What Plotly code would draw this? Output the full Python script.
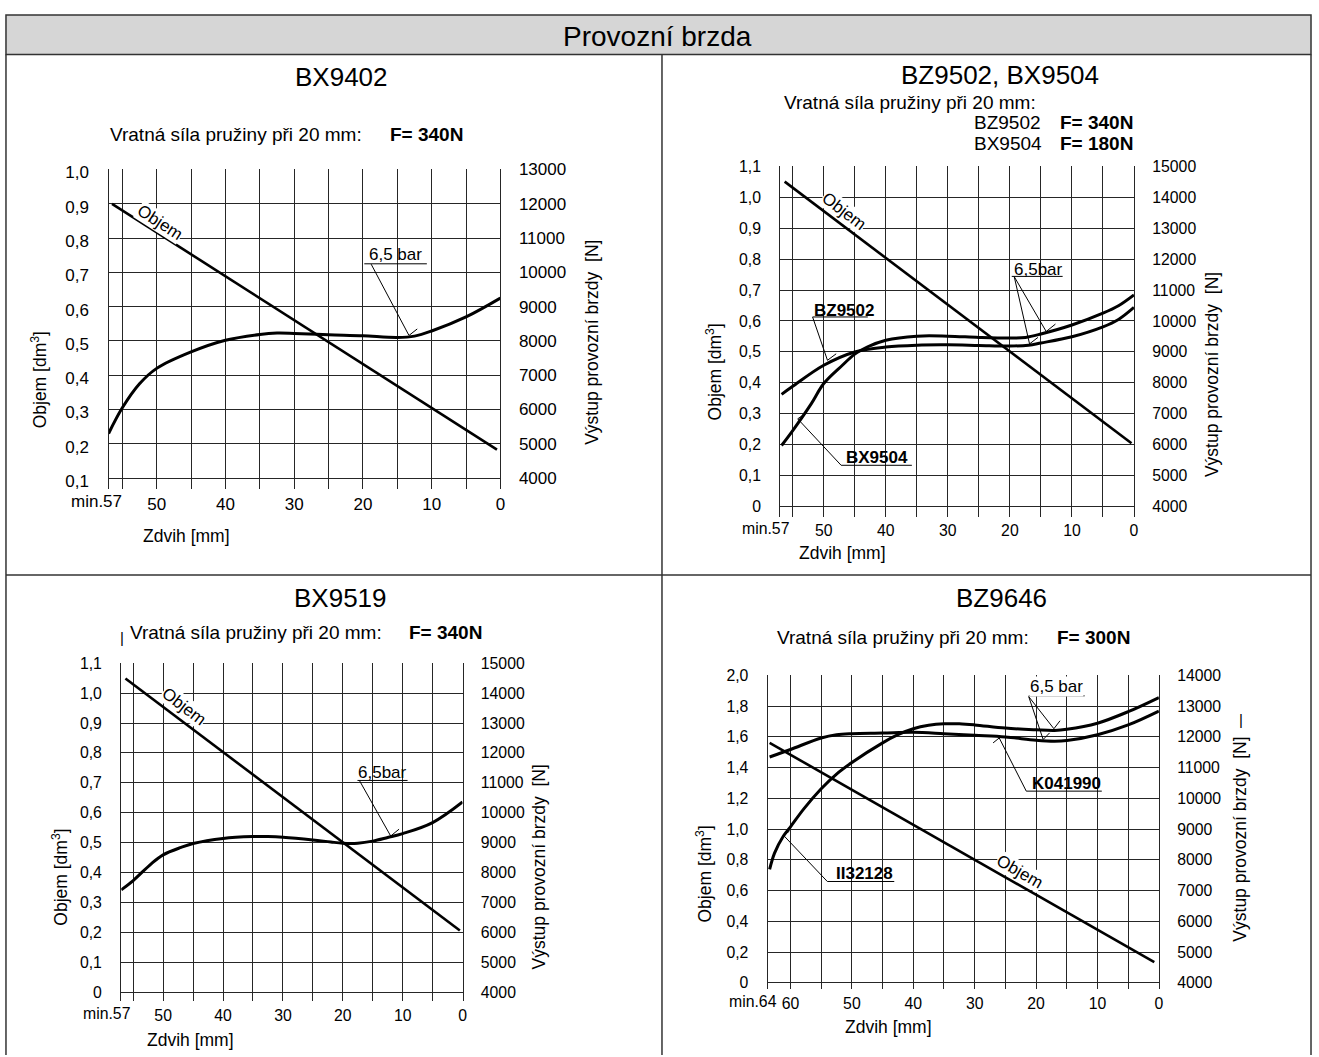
import plotly.graph_objects as go

W, H = 1319, 1057

# ---------------- data ----------------
# x: Zdvih [mm], volume in dm3 (left axis), brake output in N (right axis)
p1_objem_x = [56.5, 0.5]
p1_objem_v = [0.90, 0.183]
p1_force_x = [57, 55, 52.5, 50, 45, 40, 35, 32.5, 30, 25, 20, 15, 12.5, 10, 5, 0]
p1_force_n = [5300, 6050, 6750, 7200, 7680, 8020, 8190, 8230, 8220, 8180, 8150, 8100, 8140, 8290, 8700, 9250]

p2_objem_x = [56.3, 0.4]
p2_objem_v = [1.05, 0.205]
p2_bz9502_x = [56.8, 55, 50, 45, 40, 35, 30, 25, 20, 17, 15, 10, 5, 2.5, 0]
p2_bz9502_n = [7630, 7890, 8570, 9000, 9160, 9220, 9230, 9210, 9190, 9220, 9290, 9490, 9810, 10050, 10440]
p2_bx9504_x = [56.8, 55, 52, 50, 47, 45, 43, 40, 35, 30, 25, 20, 17.5, 15, 10, 5, 2.5, 0]
p2_bx9504_n = [5980, 6460, 7330, 7980, 8570, 8930, 9160, 9380, 9510, 9510, 9470, 9450, 9470, 9580, 9870, 10250, 10490, 10840]

p3_objem_x = [56.3, 0.45]
p3_objem_v = [1.049, 0.206]
p3_force_x = [57, 55, 52, 50, 47, 45, 40, 35, 32.5, 30, 25, 22, 20, 17.5, 15, 12.5, 10, 5, 0]
p3_force_n = [7420, 7730, 8290, 8590, 8840, 8970, 9140, 9200, 9200, 9180, 9090, 9020, 8980, 8980, 9050, 9170, 9300, 9670, 10360]

p4_objem_x = [63.4, 0.75]
p4_objem_v = [1.561, 0.134]
p4_ii32128_x = [63.4, 62.6, 61.2, 60, 57.8, 55, 52.5, 50, 45, 42.5, 40, 37.5, 35, 32.5, 30, 25, 20, 17, 15, 10, 5, 0]
p4_ii32128_n = [7690, 8220, 8760, 9075, 9665, 10310, 10790, 11165, 11805, 12070, 12265, 12375, 12425, 12425, 12390, 12285, 12230, 12210, 12245, 12445, 12820, 13280]
p4_k041990_x = [63.4, 60, 55, 52.5, 50, 45, 40, 35, 30, 25, 20, 17, 15, 10, 5, 0]
p4_k041990_n = [11345, 11590, 11965, 12070, 12105, 12125, 12150, 12105, 12050, 11995, 11890, 11860, 11880, 12070, 12390, 12840]

# tick labels
x_major_57 = [0, 10, 20, 30, 40, 50]
x_minor_57 = [5, 15, 25, 35, 45, 55]
x_major_64 = [0, 10, 20, 30, 40, 50, 60]
x_minor_64 = [5, 15, 25, 35, 45, 55]

p1_vol_ticks = [0.1, 0.2, 0.3, 0.4, 0.5, 0.6, 0.7, 0.8, 0.9, 1.0]
p1_vol_labels = ["0,1", "0,2", "0,3", "0,4", "0,5", "0,6", "0,7", "0,8", "0,9", "1,0"]
p1_n_ticks = [4000, 5000, 6000, 7000, 8000, 9000, 10000, 11000, 12000, 13000]

p23_vol_ticks = [0, 0.1, 0.2, 0.3, 0.4, 0.5, 0.6, 0.7, 0.8, 0.9, 1.0, 1.1]
p23_vol_labels = ["0", "0,1", "0,2", "0,3", "0,4", "0,5", "0,6", "0,7", "0,8", "0,9", "1,0", "1,1"]
p23_n_ticks = [4000, 5000, 6000, 7000, 8000, 9000, 10000, 11000, 12000, 13000, 14000, 15000]

p4_vol_ticks = [0, 0.2, 0.4, 0.6, 0.8, 1.0, 1.2, 1.4, 1.6, 1.8, 2.0]
p4_vol_labels = ["0", "0,2", "0,4", "0,6", "0,8", "1,0", "1,2", "1,4", "1,6", "1,8", "2,0"]
p4_n_ticks = [4000, 5000, 6000, 7000, 8000, 9000, 10000, 11000, 12000, 13000, 14000]

# ---------------- layout helpers ----------------
FONT = "Liberation Sans, Arial, Helvetica, sans-serif"
GRID = "#262626"
def px(x): return x / W
def py(y): return 1 - y / H

fig = go.Figure()

panels = [
    # left, right, top, bottom (px), x range, left y range, N = a + b*v
    dict(l=109, r=502.3, t=161.7, b=485, xr=[57, 0], yr=[0.0683, 1.0015], a=3000, b_=10000, fs=17, sh=3,
         xt=x_major_57, xm=x_minor_57, vt=p1_vol_ticks, vl=p1_vol_labels, nt=p1_n_ticks),
    dict(l=783.3, r=1138.3, t=158.4, b=513, xr=[57, 0], yr=[-0.0319, 1.1013], a=4000, b_=10000, fs=15.8, sh=0,
         xt=x_major_57, xm=x_minor_57, vt=p23_vol_ticks, vl=p23_vol_labels, nt=p23_n_ticks),
    dict(l=121.7, r=464.3, t=660.8, b=1002.7, xr=[57, 0], yr=[-0.031, 1.1013], a=4000, b_=10000, fs=15.8, sh=0,
         xt=x_major_57, xm=x_minor_57, vt=p23_vol_ticks, vl=p23_vol_labels, nt=p23_n_ticks),
    dict(l=770.7, r=1163.3, t=673.1, b=990.7, xr=[63.7, 0], yr=[-0.043, 2.002], a=4000, b_=5000, fs=15.8, sh=0,
         xt=x_major_64, xm=x_minor_64, vt=p4_vol_ticks, vl=p4_vol_labels, nt=p4_n_ticks),
]

layout = {}
for k, p in enumerate(panels, start=1):
    xa = "xaxis" if k == 1 else f"xaxis{k}"
    ly = 2 * k - 1
    ry = 2 * k
    lyname = "yaxis" if ly == 1 else f"yaxis{ly}"
    ryname = f"yaxis{ry}"
    xid = "x" if k == 1 else f"x{k}"
    lyid = "y" if ly == 1 else f"y{ly}"
    tf = dict(family=FONT, size=p["fs"], color="black")
    layout[xa] = dict(domain=[px(p["l"]), px(p["r"])], anchor=lyid, range=p["xr"],
                      tickmode="array", tickvals=p["xt"], ticktext=[str(v) for v in p["xt"]],
                      showgrid=True, gridcolor=GRID, gridwidth=1.2, zeroline=False,
                      minor=dict(tickmode="array", tickvals=p["xm"], showgrid=True,
                                 gridcolor=GRID, gridwidth=1.2, ticks=""),
                      showline=False, ticks="", ticklabelstandoff=3, tickfont=tf)
    layout[lyname] = dict(domain=[py(p["b"]), py(p["t"])], anchor=xid, range=p["yr"],
                          tickmode="array", tickvals=p["vt"], ticktext=p["vl"],
                          showgrid=True, gridcolor=GRID, gridwidth=1.2, zeroline=False,
                          showline=True, linecolor=GRID, linewidth=1.4, ticks="",
                          ticklabelstandoff=15, ticklabelshift=p["sh"], tickfont=tf)
    nr = [p["a"] + p["b_"] * p["yr"][0], p["a"] + p["b_"] * p["yr"][1]]
    layout[ryname] = dict(overlaying=lyid, side="right", anchor=xid, range=nr,
                          tickmode="array", tickvals=p["nt"], ticktext=[str(v) for v in p["nt"]],
                          showgrid=False, zeroline=False, showline=True,
                          linecolor=GRID, linewidth=1.2, ticks="", ticklabelstandoff=14,
                          tickfont=tf)

def add_line(k, x, y, right=False, width=3.0, spline=True):
    xid = "x" if k == 1 else f"x{k}"
    yi = 2 * k if right else 2 * k - 1
    yid = "y" if yi == 1 else f"y{yi}"
    fig.add_trace(go.Scatter(x=x, y=y, xaxis=xid, yaxis=yid, mode="lines",
                             line=dict(color="black", width=width,
                                       shape="spline" if spline else "linear", smoothing=1.0),
                             showlegend=False, hoverinfo="skip"))

add_line(1, p1_objem_x, p1_objem_v, spline=False, width=2.6)
add_line(1, p1_force_x, p1_force_n, right=True)
add_line(2, p2_objem_x, p2_objem_v, spline=False, width=2.6)
add_line(2, p2_bz9502_x, p2_bz9502_n, right=True)
add_line(2, p2_bx9504_x, p2_bx9504_n, right=True)
add_line(3, p3_objem_x, p3_objem_v, spline=False, width=2.6)
add_line(3, p3_force_x, p3_force_n, right=True)
add_line(4, p4_objem_x, p4_objem_v, spline=False, width=2.6)
add_line(4, p4_ii32128_x, p4_ii32128_n, right=True)
add_line(4, p4_k041990_x, p4_k041990_n, right=True)

shapes = []
annotations = []

def ref(k):
    xid = "x" if k == 1 else f"x{k}"
    yi = 2 * k - 1
    yid = "y" if yi == 1 else f"y{yi}"
    return xid, yid

def seg(k, x0, y0, x1, y1, w=1.0):
    xr, yr = ref(k)
    shapes.append(dict(type="line", xref=xr, yref=yr, x0=x0, y0=y0, x1=x1, y1=y1,
                       line=dict(color="black", width=w)))

def dtext(k, x, y, text, size=17, bold=False, angle=0, bg=None):
    xr, yr = ref(k)
    t = f"<b>{text}</b>" if bold else text
    a = dict(xref=xr, yref=yr, x=x, y=y, text=t, showarrow=False, textangle=angle,
             font=dict(family=FONT, size=size, color="black"), xanchor="center", yanchor="middle",
             borderpad=0)
    if bg:
        a["bgcolor"] = bg
    annotations.append(a)

def ptext(x, y, text, size=17, bold=False, angle=0, xanchor="center"):
    t = f"<b>{text}</b>" if bold else text
    annotations.append(dict(xref="paper", yref="paper", x=px(x), y=py(y), text=t, showarrow=False,
                            textangle=angle, font=dict(family=FONT, size=size, color="black"),
                            xanchor=xanchor, yanchor="middle"))

# frame
shapes.append(dict(type="rect", xref="paper", yref="paper", x0=px(6), x1=px(1316), y0=py(6), y1=py(46),
                   fillcolor="#d6d6d6", line=dict(color="#333333", width=1.5), layer="below"))
for (x0, y0, x1, y1) in [(6, 46, 6, 1057), (1316, 46, 1316, 1057), (664.5, 46, 664.5, 1057), (6, 572, 1316, 572)]:
    shapes.append(dict(type="line", xref="paper", yref="paper", x0=px(x0), y0=py(y0), x1=px(x1), y1=py(y1),
                       line=dict(color="#333333", width=1.5)))
ptext(660, 28, "Provozní brzda", size=28)

# panel titles / notes
ptext(343, 69, "BX9402", size=26)
ptext(108.6, 127, "Vratná síla pružiny při 20 mm:", size=19, xanchor="left")
ptext(389, 127, "F= 340N", size=19, bold=True, xanchor="left")

ptext(1003.5, 67, "BZ9502, BX9504", size=26)
ptext(784.7, 94, "Vratná síla pružiny při 20 mm:", size=19, xanchor="left")
ptext(976, 115, "BZ9502", size=19, xanchor="left")
ptext(1062.5, 115, "F= 340N", size=19, bold=True, xanchor="left")
ptext(976, 136.4, "BX9504", size=19, xanchor="left")
ptext(1062.5, 136.4, "F= 180N", size=19, bold=True, xanchor="left")

ptext(342, 595, "BX9519", size=26)
ptext(122.5, 635, "|", size=15)
ptext(128, 630, "Vratná síla pružiny při 20 mm:", size=19, xanchor="left")
ptext(409, 630, "F= 340N", size=19, bold=True, xanchor="left")

ptext(1005.6, 595, "BZ9646", size=26)
ptext(777.8, 635, "Vratná síla pružiny při 20 mm:", size=19, xanchor="left")
ptext(1059, 635, "F= 300N", size=19, bold=True, xanchor="left")
ptext(1246, 718, "|", size=15)

# axis titles
for (lx, ly, rx, ry, zx, zy, mx, my, mt, ms) in [
        (39.4, 375, 594.6, 337, 187.5, 533, 97, 498, "min.57", 17),
        (717, 367, 1216.5, 369, 846, 550, 768, 525, "min.57", 15.8),
        (60, 877, 541.5, 867, 191.5, 1042, 106.7, 1015, "min.57", 15.8),
        (706.3, 874, 1244.6, 838.5, 891.5, 1029, 756, 1003, "min.64", 15.8)]:
    ptext(lx, ly, "Objem [dm<sup>3</sup>]", size=17.5, angle=-90)
    ptext(rx, ry, "Výstup provozní brzdy  [N]", size=17.5, angle=-90)
    ptext(zx, zy, "Zdvih [mm]", size=17.5)
    ptext(mx, my, mt, size=ms)

# Objem labels along lines
dtext(1, 49.5, 0.846, "Objem", size=17, angle=32.8, bg="white")
dtext(2, 46.7, 0.954, "Objem", size=17, angle=37.2, bg="white")
dtext(3, 46.5, 0.956, "Objem", size=17, angle=37.2, bg="white")
dtext(4, 22.7, 0.727, "Objem", size=17, angle=29.9, bg="white")

# panel 1 callout
dtext(1, 15.3, 0.751, "6,5 bar", size=17)
seg(1, 19.8, 0.725, 10.7, 0.725)
seg(1, 18.8, 0.724, 13.3, 0.516)
seg(1, 13.3, 0.516, 12.1, 0.535)

# panel 2 callouts
dtext(2, 15.4, 0.766, "6,5bar", size=17)
seg(2, 19.7, 0.744, 11.5, 0.744)
seg(2, 19.3, 0.743, 14.15, 0.566)
seg(2, 19.3, 0.743, 16.83, 0.526)
seg(2, 14.15, 0.566, 12.66, 0.590)
seg(2, 16.83, 0.526, 15.48, 0.547)
dtext(2, 46.7, 0.635, "BZ9502", size=17, bold=True)
seg(2, 51.8, 0.613, 42.9, 0.613)
seg(2, 51.8, 0.613, 49.4, 0.473)
seg(2, 49.4, 0.473, 48.0, 0.494)
dtext(2, 41.4, 0.160, "BX9504", size=17, bold=True)
seg(2, 47.2, 0.134, 35.8, 0.134)
seg(2, 47.2, 0.134, 54.2, 0.284)
seg(2, 54.2, 0.284, 52.9, 0.302)

# panel 3 callout
dtext(3, 13.3, 0.735, "6,5bar", size=17)
seg(3, 17.55, 0.708, 9.18, 0.708)
seg(3, 17.2, 0.707, 12.0, 0.522)
seg(3, 12.0, 0.522, 10.6, 0.545)

# panel 4 callouts
dtext(4, 16.6, 1.925, "6,5 bar", size=17, bg="white")
seg(4, 21.2, 1.867, 12.1, 1.867)
seg(4, 21.2, 1.862, 17.1, 1.653)
seg(4, 21.2, 1.862, 18.85, 1.583)
seg(4, 17.1, 1.653, 16.1, 1.705)
seg(4, 18.85, 1.583, 17.8, 1.626)
dtext(4, 15.1, 1.294, "K041990", size=17, bold=True)
seg(4, 21.6, 1.247, 9.3, 1.247)
seg(4, 21.6, 1.247, 26.0, 1.593)
seg(4, 26.0, 1.593, 27.0, 1.561)
dtext(4, 47.9, 0.712, "II32128", size=17, bold=True)
seg(4, 54.0, 0.659, 43.1, 0.659)
seg(4, 54.0, 0.659, 61.2, 0.962)
seg(4, 61.2, 0.962, 60.2, 0.985)

fig.update_layout(width=W, height=H, margin=dict(l=0, r=0, t=0, b=0),
                  paper_bgcolor="white", plot_bgcolor="white", showlegend=False,
                  shapes=shapes, annotations=annotations,
                  font=dict(family=FONT, color="black"), **layout)

fig.write_html("out.html", config={"displayModeBar": False},
               post_script="document.body.style.margin='0px';document.body.style.overflow='hidden';")
